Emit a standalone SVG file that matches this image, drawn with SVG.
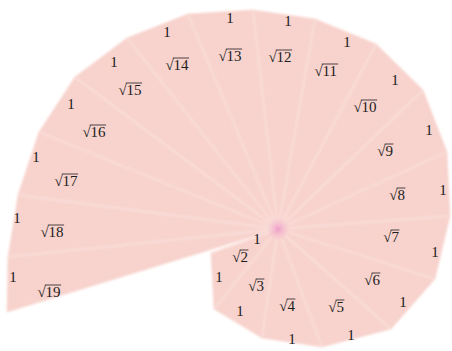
<svg xmlns="http://www.w3.org/2000/svg" xmlns:xlink="http://www.w3.org/1999/xlink" width="452" height="351" viewBox="0 0 452 351">
<style>
.tri{fill:#F8D3CD;stroke:#F8D3CD;stroke-width:0.6}
.sp{stroke:#FCE9E6;stroke-width:1.8;opacity:0.5}
.t{font-family:"Liberation Serif","Times New Roman",serif;font-size:15px;fill:#1c1c1c}
.one{text-anchor:middle}
.ov{stroke:#1c1c1c;stroke-width:0.8;fill:none}
</style>
<defs>
<filter id="soft" x="-5%" y="-5%" width="110%" height="110%">
<feGaussianBlur stdDeviation="1.2"/>
</filter>
<radialGradient id="core" cx="0.5" cy="0.5" r="0.5">
<stop offset="0" stop-color="#EC8FC0" stop-opacity="0.85"/>
<stop offset="1" stop-color="#F3B3CC" stop-opacity="0"/>
</radialGradient>
<path id="ov1" class="ov" d="M7.5,-12H16.2"/>
<path id="ov2" class="ov" d="M7.5,-12H23.7"/>
</defs>
<rect width="452" height="351" fill="#FFFFFF"/>
<g id="triangles" filter="url(#soft)">
<polygon id="t1" class="tri" points="278,229 211,253 214,309"/>
<polygon id="t2" class="tri" points="278,229 214,309 262,338"/>
<polygon id="t3" class="tri" points="278,229 262,338 322,347"/>
<polygon id="t4" class="tri" points="278,229 322,347 391,329"/>
<polygon id="t5" class="tri" points="278,229 391,329 435,279"/>
<polygon id="t6" class="tri" points="278,229 435,279 450,216"/>
<polygon id="t7" class="tri" points="278,229 450,216 447,152"/>
<polygon id="t8" class="tri" points="278,229 447,152 423,90"/>
<polygon id="t9" class="tri" points="278,229 423,90 376,44"/>
<polygon id="t10" class="tri" points="278,229 376,44 315,19"/>
<polygon id="t11" class="tri" points="278,229 315,19 253,10"/>
<polygon id="t12" class="tri" points="278,229 253,10 188,14"/>
<polygon id="t13" class="tri" points="278,229 188,14 127,38"/>
<polygon id="t14" class="tri" points="278,229 127,38 75,77"/>
<polygon id="t15" class="tri" points="278,229 75,77 39,132"/>
<polygon id="t16" class="tri" points="278,229 39,132 18,195"/>
<polygon id="t17" class="tri" points="278,229 18,195 8,257"/>
<polygon id="t18" class="tri" points="278,229 8,257 7,312"/>
</g>
<g id="spokes" filter="url(#soft)">
<line class="sp" x1="278" y1="229" x2="211" y2="253"/>
<line class="sp" x1="278" y1="229" x2="214" y2="309"/>
<line class="sp" x1="278" y1="229" x2="262" y2="338"/>
<line class="sp" x1="278" y1="229" x2="322" y2="347"/>
<line class="sp" x1="278" y1="229" x2="391" y2="329"/>
<line class="sp" x1="278" y1="229" x2="435" y2="279"/>
<line class="sp" x1="278" y1="229" x2="450" y2="216"/>
<line class="sp" x1="278" y1="229" x2="447" y2="152"/>
<line class="sp" x1="278" y1="229" x2="423" y2="90"/>
<line class="sp" x1="278" y1="229" x2="376" y2="44"/>
<line class="sp" x1="278" y1="229" x2="315" y2="19"/>
<line class="sp" x1="278" y1="229" x2="253" y2="10"/>
<line class="sp" x1="278" y1="229" x2="188" y2="14"/>
<line class="sp" x1="278" y1="229" x2="127" y2="38"/>
<line class="sp" x1="278" y1="229" x2="75" y2="77"/>
<line class="sp" x1="278" y1="229" x2="39" y2="132"/>
<line class="sp" x1="278" y1="229" x2="18" y2="195"/>
<line class="sp" x1="278" y1="229" x2="8" y2="257"/>
</g>
<circle id="centre" cx="278" cy="229" r="12" fill="url(#core)"/>
<g id="legs" class="t one">
<text x="257" y="244">1</text>
<text x="219" y="282">1</text>
<text x="240" y="316">1</text>
<text x="292" y="344">1</text>
<text x="351" y="340">1</text>
<text x="403" y="307">1</text>
<text x="435" y="257">1</text>
<text x="443" y="195">1</text>
<text x="429" y="135">1</text>
<text x="395" y="85">1</text>
<text x="347" y="47">1</text>
<text x="288" y="26">1</text>
<text x="230" y="23">1</text>
<text x="167" y="37">1</text>
<text x="114" y="67">1</text>
<text x="71" y="109">1</text>
<text x="36" y="162">1</text>
<text x="17" y="223">1</text>
<text x="13" y="282">1</text>
</g>
<g id="hypotenuses" class="t">
<text x="232.2" y="262">√2</text><use xlink:href="#ov1" x="232.2" y="262"/>
<text x="248.2" y="291">√3</text><use xlink:href="#ov1" x="248.2" y="291"/>
<text x="279.2" y="311">√4</text><use xlink:href="#ov1" x="279.2" y="311"/>
<text x="328.2" y="312">√5</text><use xlink:href="#ov1" x="328.2" y="312"/>
<text x="364.2" y="285">√6</text><use xlink:href="#ov1" x="364.2" y="285"/>
<text x="383.2" y="242">√7</text><use xlink:href="#ov1" x="383.2" y="242"/>
<text x="389.2" y="200">√8</text><use xlink:href="#ov1" x="389.2" y="200"/>
<text x="377.2" y="156">√9</text><use xlink:href="#ov1" x="377.2" y="156"/>
<text x="353.4" y="112">√10</text><use xlink:href="#ov2" x="353.4" y="112"/>
<text x="314.4" y="76">√11</text><use xlink:href="#ov2" x="314.4" y="76"/>
<text x="268.4" y="62">√12</text><use xlink:href="#ov2" x="268.4" y="62"/>
<text x="218.4" y="61">√13</text><use xlink:href="#ov2" x="218.4" y="61"/>
<text x="165.4" y="70">√14</text><use xlink:href="#ov2" x="165.4" y="70"/>
<text x="118.4" y="95">√15</text><use xlink:href="#ov2" x="118.4" y="95"/>
<text x="82.4" y="137">√16</text><use xlink:href="#ov2" x="82.4" y="137"/>
<text x="54.4" y="186">√17</text><use xlink:href="#ov2" x="54.4" y="186"/>
<text x="40.4" y="237">√18</text><use xlink:href="#ov2" x="40.4" y="237"/>
<text x="37.4" y="297">√19</text><use xlink:href="#ov2" x="37.4" y="297"/>
</g>
</svg>
